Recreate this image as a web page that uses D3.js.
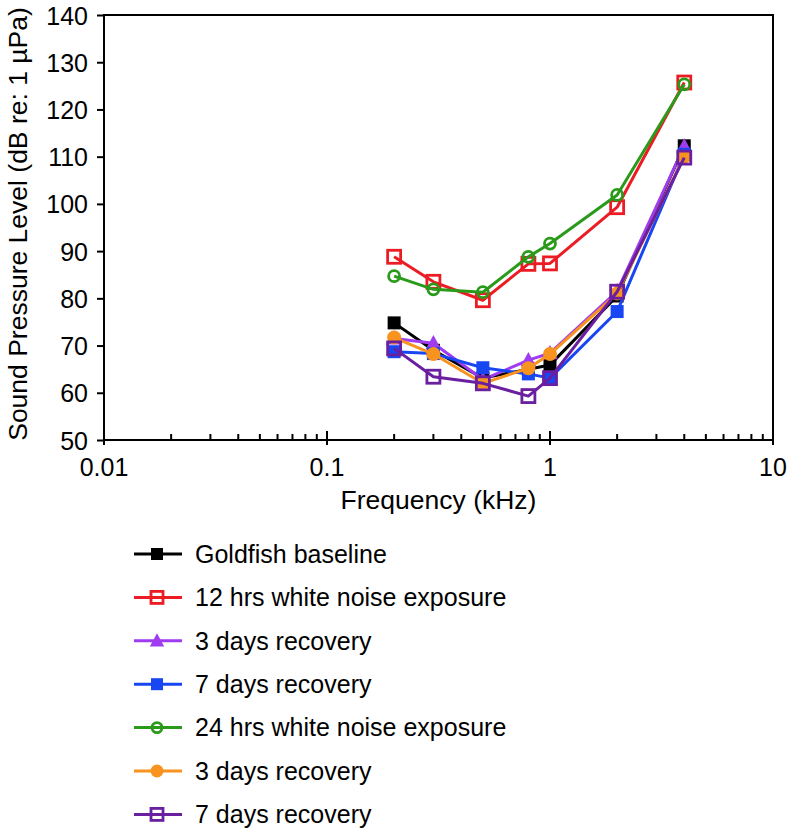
<!DOCTYPE html>
<html>
<head>
	<title>goldfish thresholds</title>
	<meta charset="utf-8">
	<script type="text/javascript" src="https://cdn.jsdelivr.net/npm/d3@7"></script>
	<style type="text/css">
		body { margin: 0; background: #fff; }
		text { font-family: "Liberation Sans", Arial, sans-serif; fill: #000; }
		.axis path, .axis line { fill: none; stroke: #000; stroke-width: 2px; }
		.lbl { font-size: 25px; }
		.ttl { font-size: 26.5px; }
	</style>
</head>
<body>
<script type="text/javascript">
	var width = 787;
	var height = 828;

	// data
	var freqs = [0.2, 0.3, 0.5, 0.8, 1, 2, 4];
	var baseline = [74.8, 69.0, 63.1, 65.0, 65.9, 80.5, 112.3];
	var noise12 = [88.8, 83.5, 79.6, 87.3, 87.4, 99.3, 125.7];
	var rec3a = [71.5, 70.5, 62.8, 66.9, 68.4, 81.5, 112.2];
	var rec7a = [68.7, 68.3, 65.3, 64.0, 63.1, 77.2, 110.5];
	var noise24 = [84.7, 81.9, 81.3, 88.8, 91.6, 101.9, 125.3];
	var rec3b = [71.7, 68.2, 62.0, 65.2, 68.2, 81.0, 110.0];
	var rec7b = [69.4, 63.4, 62.0, 59.3, 63.1, 81.4, 109.8];

	var seriesNames = ["Goldfish baseline", "12 hrs white noise exposure", "3 days recovery",
		"7 days recovery", "24 hrs white noise exposure", "3 days recovery", "7 days recovery"];
	var seriesValues = [baseline, noise12, rec3a, rec7a, noise24, rec3b, rec7b];
	var yTicks = [50, 60, 70, 80, 90, 100, 110, 120, 130, 140];
	var xTicks = [0.01, 0.1, 1, 10];

	// style per series
	var colors = ["#000000", "#ec1c24", "#a03cf0", "#1846f2", "#2a9a1a", "#f7931e", "#6a1fa0"];
	var markers = ["square", "squareOpen", "triangle", "square", "circleOpen", "circle", "squareOpen"];

	var plot = {left: 104, right: 773, top: 15, bottom: 440};

	var xscale = d3.scaleLog().domain([0.01, 10]).range([plot.left, plot.right]);
	var yscale = d3.scaleLinear().domain([50, 140]).range([plot.bottom, plot.top]);

	var svg = d3.select("body").append("svg")
		.attr("width", width)
		.attr("height", height);

	// frame
	svg.append("rect")
		.attr("x", plot.left).attr("y", plot.top)
		.attr("width", plot.right - plot.left).attr("height", plot.bottom - plot.top)
		.attr("fill", "none").attr("stroke", "#000").attr("stroke-width", 2);

	// y axis, ticks outside
	var yAxis = d3.axisLeft(yscale).tickValues(yTicks).tickSize(7).tickPadding(9);
	var gy = svg.append("g").attr("class", "axis")
		.attr("transform", "translate(" + plot.left + ",0)")
		.call(yAxis);
	gy.select(".domain").remove();
	gy.selectAll("text").attr("class", "lbl").attr("dy", "0.36em");

	// x axis: minor ticks inside, major ticks crossing
	var minor = [];
	[0.01, 0.1, 1].forEach(function(d){
		for (var k = 2; k <= 9; k++) minor.push(d * k);
	});
	var gx = svg.append("g").attr("class", "axis")
		.attr("transform", "translate(0," + plot.bottom + ")");
	gx.selectAll(".minor").data(minor).enter().append("line")
		.attr("x1", function(d){ return xscale(d); })
		.attr("x2", function(d){ return xscale(d); })
		.attr("y1", 0).attr("y2", -6);
	gx.selectAll(".major").data(xTicks).enter().append("line")
		.attr("x1", function(d){ return xscale(d); })
		.attr("x2", function(d){ return xscale(d); })
		.attr("y1", 5).attr("y2", -9);
	gx.selectAll("text").data(xTicks).enter().append("text")
		.attr("class", "lbl")
		.attr("x", function(d){ return xscale(d); })
		.attr("y", 36)
		.attr("text-anchor", "middle")
		.text(function(d){ return d; });

	// axis titles
	svg.append("text").attr("class", "ttl")
		.attr("x", (plot.left + plot.right) / 2).attr("y", 509)
		.attr("text-anchor", "middle")
		.text("Frequency (kHz)");
	svg.append("text").attr("class", "ttl")
		.attr("transform", "translate(27," + 224 + ") rotate(-90)")
		.attr("text-anchor", "middle")
		.text("Sound Pressure Level (dB re: 1 \u00b5Pa)");

	// marker drawing
	function drawMarker(g, type, color, x, y, s) {
		if (type == "square" || type == "squareOpen") {
			g.append("rect")
				.attr("x", x - s / 2).attr("y", y - s / 2)
				.attr("width", s).attr("height", s)
				.attr("fill", type == "square" ? color : "none")
				.attr("stroke", color).attr("stroke-width", type == "square" ? 0 : 2.8);
		} else if (type == "triangle") {
			var h = s * 1.05;
			g.append("path")
				.attr("d", "M" + x + "," + (y - h * 0.6) + "L" + (x + s * 0.6) + "," + (y + h * 0.45) +
					"L" + (x - s * 0.6) + "," + (y + h * 0.45) + "Z")
				.attr("fill", color);
		} else if (type == "circle") {
			g.append("circle").attr("cx", x).attr("cy", y).attr("r", s / 2 + 0.5).attr("fill", color);
		} else if (type == "circleOpen") {
			g.append("circle").attr("cx", x).attr("cy", y).attr("r", s / 2 - 1)
				.attr("fill", "none").attr("stroke", color).attr("stroke-width", 2.8);
		}
	}

	var line = d3.line()
		.x(function(d){ return xscale(d[0]); })
		.y(function(d){ return yscale(d[1]); });

	// series
	seriesValues.forEach(function(vals, i){
		var pts = freqs.map(function(f, j){ return [f, vals[j]]; });
		var g = svg.append("g");
		g.append("path")
			.attr("d", line(pts))
			.attr("fill", "none")
			.attr("stroke", colors[i])
			.attr("stroke-width", 3)
			.attr("stroke-linejoin", "round");
		pts.forEach(function(p){
			drawMarker(g, markers[i], colors[i], xscale(p[0]), yscale(p[1]), 13);
		});
	});

	// legend
	var legendY0 = 554, legendStep = 43.4;
	seriesNames.forEach(function(name, i){
		var y = legendY0 + i * legendStep;
		var g = svg.append("g");
		g.append("line")
			.attr("x1", 134).attr("x2", 182).attr("y1", y).attr("y2", y)
			.attr("stroke", colors[i]).attr("stroke-width", 3);
		drawMarker(g, markers[i], colors[i], 157, y, 12);
		g.append("text").attr("class", "lbl")
			.attr("x", 195).attr("y", y).attr("dy", "0.35em")
			.text(name);
	});
</script>
</body>
</html>
